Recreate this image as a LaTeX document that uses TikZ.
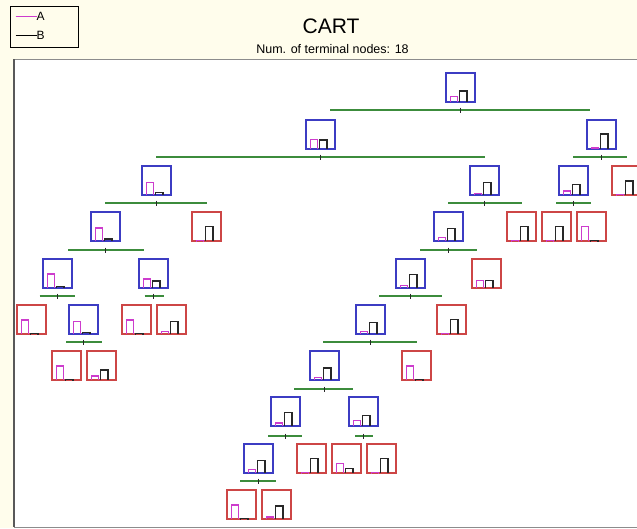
\documentclass[tikz,border=0pt]{standalone}
\usepackage{fontspec}
\setmainfont{Liberation Sans}
\definecolor{bgc}{RGB}{255,253,236}
\definecolor{boxblue}{RGB}{60,60,195}
\definecolor{boxred}{RGB}{205,70,70}
\definecolor{pinkc}{RGB}{205,60,205}
\definecolor{barblk}{RGB}{40,40,40}
\definecolor{splitg}{RGB}{60,140,60}
\definecolor{framec}{RGB}{140,140,140}
\tikzset{
  x=1pt,y=-1pt,
  tbox/.style={draw, line width=1.4pt, anchor=north west, inner sep=0pt, outer sep=0pt,
               minimum width=29pt, minimum height=29pt, fill=white},
  inbox/.style={tbox, draw=boxblue},
  termbox/.style={tbox, draw=boxred},
  pinkbar/.style={draw=pinkc, line width=1.3pt},
  blackbar/.style={draw=barblk, line width=1.3pt},
  splitline/.style={draw=splitg, line width=1.7pt},
  tick/.style={draw=barblk, line width=0.6pt},
}
\newcommand\mybars[3]{%
  \draw[pinkbar] ([xshift=4.2pt]#1.south west) -- ++(0,-#2) -- ++(7.2,0) -- ++(0,#2);
  \draw[blackbar] ([xshift=13.8pt]#1.south west) -- ++(0,-#3) -- ++(7.2,0) -- ++(0,#3);
}
\newcommand\mynode[6]{%
  \node[#4] (#1) at (#2,#3) {};
  \mybars{#1}{#5}{#6}%
}
\newcommand\mysplit[4]{%
  \draw[splitline] (#3,#2) -- (#4,#2);
  \draw[tick] (#1.south |- 0,#2) ++(0,-2.5) -- ++(0,5);
}
\begin{document}
\begin{tikzpicture}
\useasboundingbox (0,0) rectangle (637,528);
\clip (0,0) rectangle (637,528);
\fill[bgc] (0,0) rectangle (637,528);
% legend
\node[draw=black, line width=0.6pt, minimum width=67.5pt, minimum height=41pt, anchor=north west, inner sep=0pt] (legend) at (10,6) {};
\coordinate (la0) at (15.5,16.5);
\coordinate (la1) at (36.5,16.5);
\coordinate (lb0) at (15.5,35);
\coordinate (lb1) at (36.5,35);
\draw[pinkc, line width=1pt] (la0) -- (la1);
\draw[black, line width=0.8pt] (lb0) -- (lb1);
\node[anchor=west, inner sep=0pt, font=\fontsize{12}{13}\selectfont] (lA) at (36.5,16.5) {A};
\node[anchor=west, inner sep=0pt, font=\fontsize{12}{13}\selectfont] (lB) at (36.5,35) {B};
% titles
\node[font=\fontsize{21}{24}\selectfont, inner sep=0pt] (title) at (331,26) {CART};
\node[font=\fontsize{12.5}{14}\selectfont, inner sep=0pt] (sub) at (332.5,49) {Num. of terminal nodes: 18};
% frame
\fill[white] (14,59) rectangle (645,527);
\draw[framec, line width=0.8pt] (645,59) -- (14,59) -- (14,527) -- (645,527);
\draw[gray!70!black, line width=1.6pt] (14,59) -- (14,527);
% nodes
\mynode{n0}{446}{73}{inbox}{5.5}{11}
\mynode{n1}{306}{120}{inbox}{9.5}{9}
\mynode{n2}{587}{120}{inbox}{1}{15}
\mynode{n3}{142}{166}{inbox}{12.5}{2.5}
\mynode{n4}{470}{166}{inbox}{1.5}{12.5}
\mynode{n5}{559}{166}{inbox}{4}{10.5}
\mynode{n6}{612}{166}{termbox}{0.5}{14}
\mynode{n7}{91}{212}{inbox}{13}{2}
\mynode{n8}{192}{212}{termbox}{0.5}{14.3}
\mynode{n9}{434}{212}{inbox}{3.3}{12.5}
\mynode{n10}{507}{212}{termbox}{0.5}{14.3}
\mynode{n11}{542}{212}{termbox}{0.5}{14.3}
\mynode{n12}{577}{212}{termbox}{14.3}{0.5}
\mynode{n13}{43}{259}{inbox}{14}{1.7}
\mynode{n14}{139}{259}{inbox}{9}{7}
\mynode{n15}{396}{259}{inbox}{2.7}{13.7}
\mynode{n16}{472}{259}{termbox}{7.7}{7.7}
\mynode{n17}{17}{305}{termbox}{14}{0.5}
\mynode{n18}{69}{305}{inbox}{12.3}{1.7}
\mynode{n19}{122}{305}{termbox}{14}{0.5}
\mynode{n20}{157}{305}{termbox}{2.7}{12.7}
\mynode{n21}{356}{305}{inbox}{2.7}{11.5}
\mynode{n22}{437}{305}{termbox}{0.5}{14.3}
\mynode{n23}{52}{351}{termbox}{14}{0.5}
\mynode{n24}{87}{351}{termbox}{4}{10}
\mynode{n25}{310}{351}{inbox}{2.7}{12}
\mynode{n26}{402}{351}{termbox}{14}{0.5}
\mynode{n27}{271}{397}{inbox}{3}{13.3}
\mynode{n28}{349}{397}{inbox}{5.7}{10.7}
\mynode{n29}{244}{444}{inbox}{3.3}{12.3}
\mynode{n30}{297}{444}{termbox}{0.5}{14.7}
\mynode{n31}{332}{444}{termbox}{9.7}{4.7}
\mynode{n32}{367}{444}{termbox}{0.5}{14.7}
\mynode{n33}{227}{490}{termbox}{14}{0.5}
\mynode{n34}{262}{490}{termbox}{2}{13}
% split lines
\mysplit{n0}{110}{330}{590}
\mysplit{n1}{157}{156}{485}
\mysplit{n2}{157}{573}{627}
\mysplit{n3}{203}{105}{207}
\mysplit{n4}{203}{448}{522}
\mysplit{n5}{203}{556}{591}
\mysplit{n7}{250}{68}{144}
\mysplit{n9}{250}{420}{477}
\mysplit{n13}{296}{39.5}{75}
\mysplit{n14}{296}{144.5}{163.5}
\mysplit{n15}{296}{379}{442}
\mysplit{n18}{342}{66}{102}
\mysplit{n21}{342}{323}{417}
\mysplit{n25}{389}{294}{353}
\mysplit{n27}{436}{268}{302}
\mysplit{n28}{436}{355}{373}
\mysplit{n29}{481}{240}{276}
\end{tikzpicture}
\end{document}
